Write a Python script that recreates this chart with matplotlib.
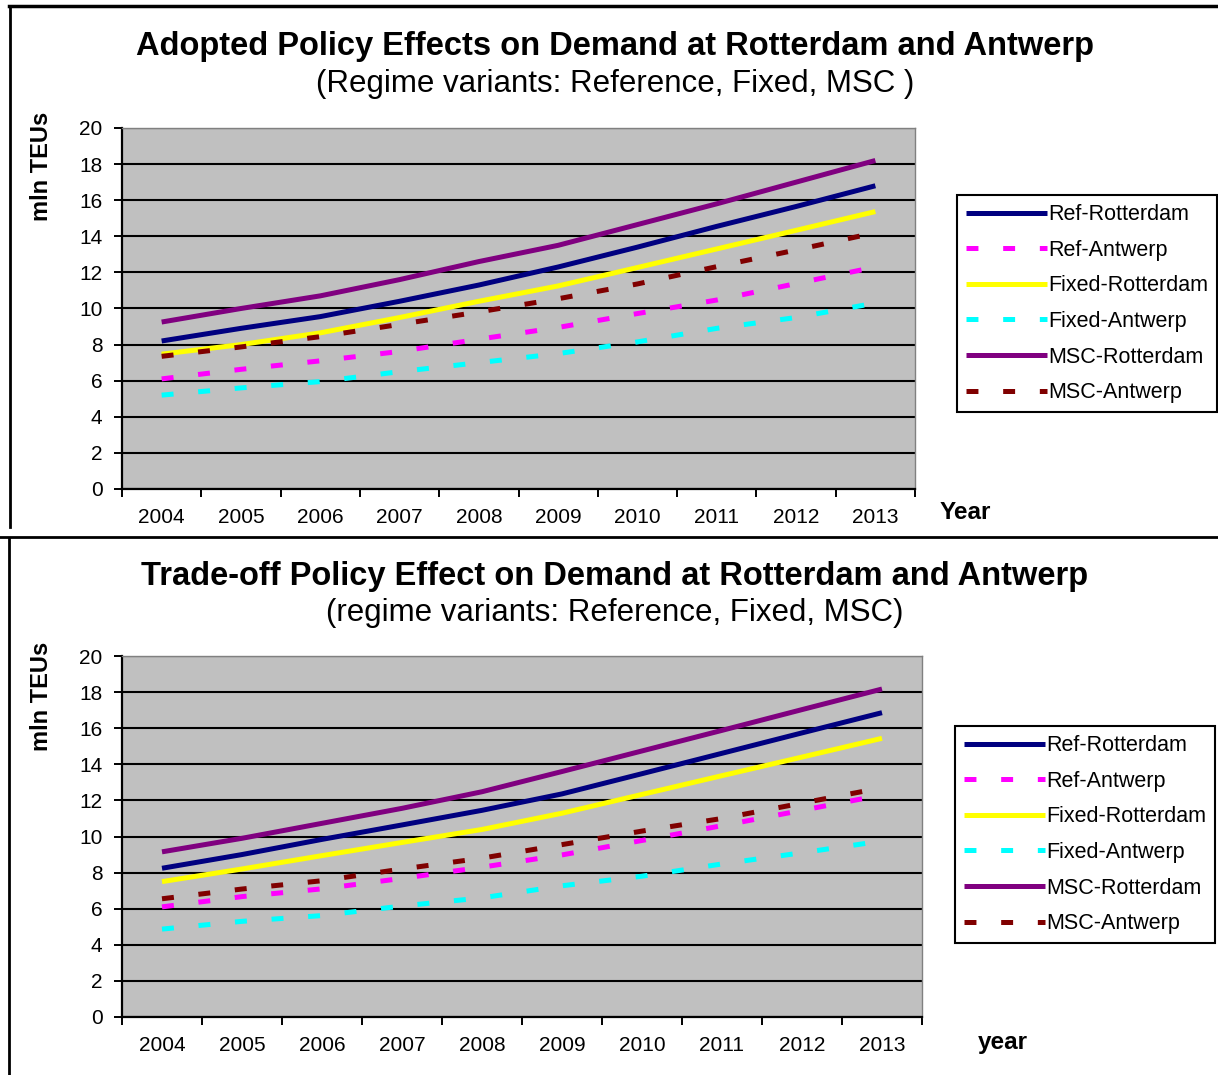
import numpy as np
import matplotlib.pyplot as plt
from matplotlib.lines import Line2D

plt.rcParams['font.family'] = ['Liberation Sans', 'DejaVu Sans']
plt.rcParams['lines.scale_dashes'] = False

# Data
years = ['2004', '2005', '2006', '2007', '2008', '2009', '2010', '2011', '2012', '2013']
labels = ['Ref-Rotterdam', 'Ref-Antwerp', 'Fixed-Rotterdam', 'Fixed-Antwerp', 'MSC-Rotterdam', 'MSC-Antwerp']

# adopted policy (top)
ref_rot_a = [8.2, 8.9, 9.55, 10.4, 11.3, 12.3, 13.4, 14.55, 15.65, 16.8]
ref_ant_a = [6.1, 6.63, 7.1, 7.62, 8.3, 8.95, 9.72, 10.47, 11.38, 12.3]
fix_rot_a = [7.47, 8.0, 8.65, 9.5, 10.4, 11.25, 12.27, 13.3, 14.33, 15.37]
fix_ant_a = [5.2, 5.6, 5.95, 6.5, 7.0, 7.5, 8.15, 8.9, 9.5, 10.3]
msc_rot_a = [9.25, 10.0, 10.7, 11.6, 12.6, 13.5, 14.65, 15.8, 17.0, 18.2]
msc_ant_a = [7.35, 7.87, 8.44, 9.12, 9.81, 10.54, 11.36, 12.32, 13.24, 14.2]

# trade-off policy (bottom)
ref_rot_b = [8.24, 9.0, 9.84, 10.64, 11.45, 12.36, 13.48, 14.61, 15.74, 16.86]
ref_ant_b = [6.1, 6.67, 7.1, 7.68, 8.3, 8.98, 9.78, 10.6, 11.45, 12.3]
fix_rot_b = [7.5, 8.2, 8.94, 9.67, 10.39, 11.29, 12.33, 13.37, 14.4, 15.44]
fix_ant_b = [4.87, 5.3, 5.62, 6.15, 6.6, 7.27, 7.8, 8.48, 9.1, 9.75]
msc_rot_b = [9.15, 9.9, 10.73, 11.56, 12.48, 13.6, 14.74, 15.88, 17.03, 18.17]
msc_ant_b = [6.55, 7.09, 7.55, 8.2, 8.8, 9.55, 10.3, 11.0, 11.85, 12.7]

colors = ['#000080', '#FF00FF', '#FFFF00', '#00FFFF', '#800080', '#800000']
dashed = [False, True, False, True, False, True]

W, H = 1218, 1075
fig = plt.figure(figsize=(W / 100, H / 100), dpi=100)


def px(x0, y0, x1, y1):
    return [x0 / W, 1 - y1 / H, (x1 - x0) / W, (y1 - y0) / H]


def panel(rect, series, title, subtitle, ty, sy, xlab, xlab_pos, leg_pos):
    ax = fig.add_axes(rect)
    ax.set_facecolor('#C0C0C0')
    x = np.arange(len(years))
    handles = []
    for vals, c, d, lab in zip(series, colors, dashed, labels):
        if d:
            h, = ax.plot(x, vals, color=c, lw=3.6, dashes=(8.6, 17.8),
                         dash_capstyle='butt', label=lab)
        else:
            h, = ax.plot(x, vals, color=c, lw=3.6, solid_capstyle='butt', label=lab)
        handles.append(h)
    ax.set_xlim(-0.5, 9.5)
    ax.set_ylim(0, 20)
    ax.set_yticks(np.arange(0, 21, 2))
    ax.set_xticks(np.arange(-0.5, 10, 1))
    ax.set_xticklabels([])
    ax.set_xticks(x, minor=True)
    ax.set_xticklabels(years, minor=True, fontsize=15)
    ax.tick_params(axis='x', which='major', direction='out', length=6, width=1.4, color='black')
    ax.tick_params(axis='x', which='minor', length=0, pad=14)
    ax.tick_params(axis='y', direction='out', length=6, width=1.4, labelsize=15, pad=8)
    ax.grid(axis='y', color='black', linewidth=1.5)
    ax.set_axisbelow(True)
    for s in ['left', 'bottom']:
        ax.spines[s].set_linewidth(1.6)
        ax.spines[s].set_color('black')
    for s in ['top', 'right']:
        ax.spines[s].set_linewidth(1.0)
        ax.spines[s].set_color('#808080')

    fig.text(615 / W, 1 - ty / H, title, fontsize=23.5, fontweight='bold', ha='center', va='center')
    fig.text(615 / W, 1 - sy / H, subtitle, fontsize=22.5, ha='center', va='center')
    fig.text(42 / W, 1 - (ty + 119) / H, 'mln TEUs', fontsize=17, fontweight='bold',
             rotation=90, ha='center', va='center')
    fig.text(xlab_pos[0] / W, 1 - xlab_pos[1] / H, xlab, fontsize=17.5, fontweight='bold',
             ha='center', va='center')

    leg = fig.legend(handles=handles, loc='upper left',
                     bbox_to_anchor=(leg_pos[0] / W, 1 - leg_pos[1] / H),
                     fontsize=15.5, handlelength=3.75, handletextpad=0.05,
                     labelspacing=0.68, borderpad=0.42, borderaxespad=0,
                     fancybox=False, framealpha=1, edgecolor='black')
    leg.get_frame().set_linewidth(1.5)
    return ax


panel(px(122, 128, 915, 489),
      [ref_rot_a, ref_ant_a, fix_rot_a, fix_ant_a, msc_rot_a, msc_ant_a],
      'Adopted Policy Effects on Demand at Rotterdam and Antwerp',
      '(Regime variants: Reference, Fixed, MSC )', 47, 84,
      'Year', (965, 512), (957, 195))

panel(px(122, 656, 922, 1017),
      [ref_rot_b, ref_ant_b, fix_rot_b, fix_ant_b, msc_rot_b, msc_ant_b],
      'Trade-off Policy Effect on Demand at Rotterdam and Antwerp',
      '(regime variants: Reference, Fixed, MSC)', 577, 613,
      'year', (1003, 1043), (955, 726))

# outer frame lines
fig.add_artist(Line2D([9 / W, 1], [1 - 6 / H, 1 - 6 / H], color='black', lw=2.5))
fig.add_artist(Line2D([10 / W, 10 / W], [1 - 527 / H, 1 - 6 / H], color='black', lw=2))
fig.add_artist(Line2D([9 / W, 9 / W], [0, 1 - 538 / H], color='black', lw=2))
fig.add_artist(Line2D([0, 1], [1 - 537 / H, 1 - 537 / H], color='black', lw=2))

plt.savefig('out.png', dpi=100)
